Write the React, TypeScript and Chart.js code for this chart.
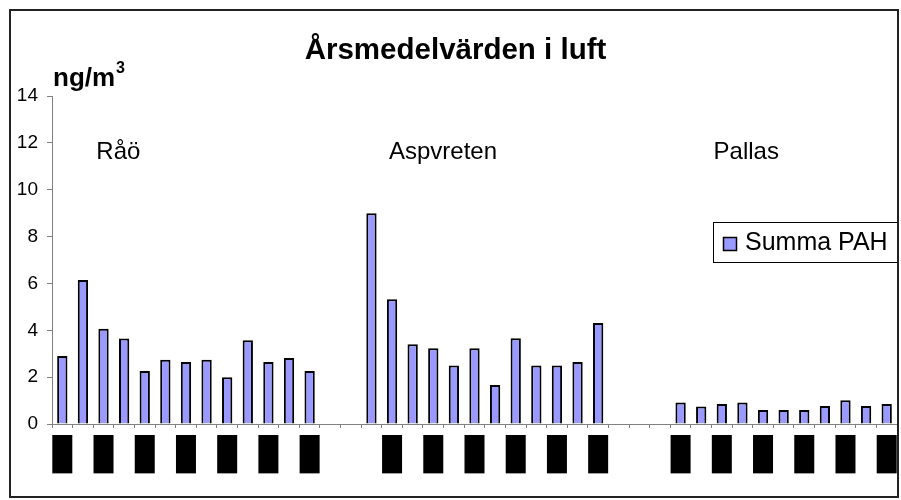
import React, { useEffect, useRef } from 'react';
import { Chart, registerables } from 'chart.js';

Chart.register(...registerables);

const chartTitle = 'Årsmedelvärden i luft';
const unitLabel = 'ng/m';
const unitSuperscript = '3';
const seriesName = 'Summa PAH';
const stationNames = ['Råö', 'Aspvreten', 'Pallas'];

const raoYears = ['1990', '1991', '1992', '1993', '1994', '1995', '1996', '1997', '1998', '1999', '2000', '2001', '2002'];
const raoValues = [2.9, 6.15, 4.07, 3.65, 2.26, 2.74, 2.65, 2.74, 2.0, 3.57, 2.65, 2.82, 2.26];

const aspvretenYears = ['1991', '1992', '1993', '1994', '1995', '1996', '1997', '1998', '1999', '2000', '2001', '2002'];
const aspvretenValues = [9.0, 5.32, 3.4, 3.23, 2.5, 3.23, 1.66, 3.66, 2.5, 2.5, 2.65, 4.31];

const pallasYears = ['1992', '1993', '1994', '1995', '1996', '1997', '1998', '1999', '2000', '2001', '2002'];
const pallasValues = [0.92, 0.75, 0.85, 0.92, 0.6, 0.6, 0.6, 0.77, 1.01, 0.77, 0.85];

const yMin = 0;
const yMax = 14;
const yStep = 2;

const FONT = '"Liberation Sans", Arial, sans-serif';

const categoryLabels = [...raoYears, '', '', ...aspvretenYears, '', '', '', ...pallasYears];
const seriesValues = [
  ...raoValues,
  null,
  null,
  ...aspvretenValues,
  null,
  null,
  null,
  ...pallasValues,
];

// where each station name starts (category index units) and its baseline (value units)
const stationLabelIndex = [1.65, 15.85, 31.6];
const stationLabelValue = 11.3;

const decorPlugin = {
  id: 'decor',
  beforeDraw(chart: any) {
    const ctx = chart.ctx;
    ctx.save();
    ctx.fillStyle = '#ffffff';
    ctx.fillRect(0, 0, chart.width, chart.height);
    ctx.restore();
  },
  afterDraw(chart: any) {
    const ctx = chart.ctx;
    const xs = chart.scales.x;
    const ys = chart.scales.y;
    ctx.save();

    // title
    ctx.fillStyle = '#000';
    ctx.font = `bold 29.5px ${FONT}`;
    ctx.textAlign = 'center';
    ctx.textBaseline = 'alphabetic';
    ctx.fillText(chartTitle, 455.5, 59);

    // unit label
    ctx.textAlign = 'left';
    ctx.font = `bold 26px ${FONT}`;
    ctx.fillText(unitLabel, 53, 86);
    const uw = ctx.measureText(unitLabel).width;
    ctx.font = `bold 16px ${FONT}`;
    ctx.fillText(unitSuperscript, 53 + uw + 1, 73);

    // station labels
    ctx.font = `24px ${FONT}`;
    stationNames.forEach((name, i) => {
      const x = xs.getPixelForValue(stationLabelIndex[i]);
      const y = ys.getPixelForValue(stationLabelValue);
      ctx.fillText(name, x, y);
    });

    // legend
    const ds = chart.data.datasets[0];
    const lx = 713.5, ly = 222.5, lw = 185, lh = 40;
    ctx.fillStyle = '#fff';
    ctx.fillRect(lx, ly, lw, lh);
    ctx.strokeStyle = '#000';
    ctx.lineWidth = 1;
    ctx.strokeRect(lx, ly, lw, lh);
    ctx.fillStyle = ds.backgroundColor;
    ctx.fillRect(723, 237, 14, 14);
    ctx.lineWidth = 1.5;
    ctx.strokeRect(723.5, 237.5, 13, 13);
    ctx.fillStyle = '#000';
    ctx.font = `25px ${FONT}`;
    ctx.textBaseline = 'middle';
    ctx.fillText(ds.label, 745, 243);

    // outer frame
    ctx.strokeStyle = '#222';
    ctx.lineWidth = 2;
    ctx.strokeRect(10, 10, 888, 487);
    ctx.restore();
  },
};

export default function App() {
  const canvasRef = useRef<HTMLCanvasElement | null>(null);

  useEffect(() => {
    if (!canvasRef.current) return;
    const chart = new Chart(canvasRef.current, {
      type: 'bar',
      data: {
        labels: categoryLabels,
        datasets: [
          {
            label: seriesName,
            data: seriesValues,
            backgroundColor: '#9999FF',
            borderColor: '#000000',
            borderWidth: 2,
            barPercentage: 0.5,
            categoryPercentage: 1.0,
          },
        ],
      },
      options: {
        animation: false,
        responsive: false,
        maintainAspectRatio: false,
        layout: { padding: { left: 0, right: 4, top: 96, bottom: 0 } },
        plugins: {
          legend: { display: false },
          title: { display: false },
          tooltip: { enabled: false },
        },
        scales: {
          x: {
            offset: true,
            grid: {
              offset: true,
              drawOnChartArea: false,
              color: '#808080',
              tickLength: 4,
            },
            border: { color: '#808080', width: 1 },
            ticks: {
              autoSkip: false,
              minRotation: 90,
              maxRotation: 90,
              padding: 8,
              labelOffset: -9,
              color: '#000',
              font: { family: FONT, size: 15 },
              callback: function (this: any, val: any, index: number) {
                return index % 2 === 0 ? this.getLabelForValue(val) : '';
              },
              showLabelBackdrop: (c: any) => !!(c.tick && c.tick.label),
              backdropColor: '#000',
              backdropPadding: { top: 1, bottom: 1, left: 4, right: 1 },
            },
            afterFit: (s: any) => {
              s.height = 76;
              s.paddingLeft = 0;
              s.paddingRight = 0;
            },
          },
          y: {
            min: yMin,
            max: yMax,
            ticks: {
              stepSize: yStep,
              padding: 9,
              color: '#000',
              font: { family: FONT, size: 19 },
            },
            grid: {
              drawOnChartArea: false,
              color: '#808080',
              tickLength: 5,
            },
            border: { color: '#808080', width: 1 },
            afterFit: (s: any) => {
              s.width = 52;
            },
          },
        },
      },
      plugins: [decorPlugin],
    } as any);
    return () => chart.destroy();
  }, []);

  return (
    <canvas
      ref={canvasRef}
      width={901}
      height={500}
      style={{ position: 'fixed', left: 0, top: 0, width: '901px', height: '500px', display: 'block' }}
    />
  );
}
